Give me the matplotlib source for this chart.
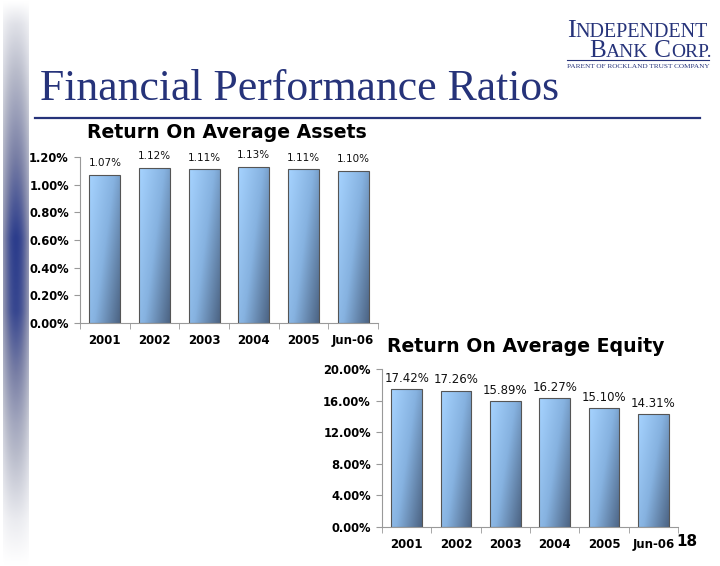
import numpy as np
import matplotlib
matplotlib.use("Agg")
import matplotlib.pyplot as plt
from matplotlib.colors import LinearSegmentedColormap
from matplotlib.ticker import FuncFormatter, FixedLocator

W, H = 720, 566

years = ["2001", "2002", "2003", "2004", "2005", "Jun-06"]
roa = [1.07, 1.12, 1.11, 1.13, 1.11, 1.10]
roe = [17.42, 17.26, 15.89, 16.27, 15.10, 14.31]
roa_ticks = [0.0, 0.2, 0.4, 0.6, 0.8, 1.0, 1.2]
roe_ticks = [0.0, 4.0, 8.0, 12.0, 16.0, 20.0]

NAVY = "#26337a"
bar_cmap = LinearSegmentedColormap.from_list("bar", ["#a6d3ff", "#86b2e0", "#4d6585"])


def box(left, top, right, bottom):
    # pixel box -> figure fraction rect
    return [left / W, 1 - bottom / H, (right - left) / W, (bottom - top) / H]


def gradient_bars(ax, vals, width=0.62):
    bars = ax.bar(range(len(vals)), vals, width=width, color="none",
                  edgecolor="#555555", linewidth=0.8, zorder=3)
    yy, xx = np.mgrid[0:1:60j, 0:1:30j]
    grad = 0.6 * xx + 0.4 * (1 - yy)
    for b in bars:
        x0, y0 = b.get_x(), b.get_y()
        im = ax.imshow(grad, cmap=bar_cmap, origin="lower", aspect="auto",
                       extent=(x0, x0 + b.get_width(), y0, y0 + b.get_height()),
                       zorder=2, interpolation="bilinear")
        im.set_clip_path(b)
    return bars


def style_axes(ax, ticks, fmt):
    ax.set_xlim(-0.5, len(years) - 0.5)
    ax.set_ylim(ticks[0], ticks[-1])
    ax.set_yticks(ticks)
    ax.yaxis.set_major_formatter(FuncFormatter(lambda v, p: fmt.format(v)))
    ax.set_xticks(range(len(years)))
    ax.set_xticklabels(years)
    ax.tick_params(axis="x", length=0, pad=8)
    ax.xaxis.set_minor_locator(FixedLocator(np.arange(-0.5, len(years), 1.0)))
    ax.tick_params(axis="x", which="minor", length=4, color="#999999")
    ax.tick_params(axis="y", length=4, color="#999999", pad=4)
    for lab in ax.get_xticklabels():
        lab.set_fontweight("bold")
        lab.set_fontsize(8.5)
    for lab in ax.get_yticklabels():
        lab.set_fontweight("bold")
        lab.set_fontsize(8.3)
    for s in ("top", "right"):
        ax.spines[s].set_visible(False)
    for s in ("left", "bottom"):
        ax.spines[s].set_color("#999999")
        ax.spines[s].set_linewidth(0.8)
    ax.set_facecolor("none")


fig = plt.figure(figsize=(W / 100, H / 100), dpi=100)
fig.patch.set_facecolor("white")

# decorative strip on the left
sax = fig.add_axes(box(3, 0, 29, H))
sax.axis("off")
ty = np.linspace(0, 1, 200)[:, None]
tx = np.linspace(-1, 1, 30)[None, :]
vert = np.interp(ty, [0, 0.04, 0.2, 0.42, 0.55, 0.75, 0.92, 1.0],
                 [0.0, 0.15, 0.5, 1.0, 0.95, 0.45, 0.1, 0.0])
strip = vert * (1 - 0.45 * tx ** 2)
strip_cmap = LinearSegmentedColormap.from_list("strip", ["#ffffff", "#b9bccb", "#7a80a6", "#2c3d8c"])
sax.imshow(strip, cmap=strip_cmap, aspect="auto", vmin=0, vmax=1, interpolation="bilinear")

# logo
renderer = fig.canvas.get_renderer()


def small_caps(x, y, parts, color=NAVY):
    # parts: list of (text, size); x,y in pixels (baseline)
    for txt, size in parts:
        t = fig.text(x / W, 1 - y / H, txt, fontsize=size, family="Liberation Serif",
                     color=color, va="baseline", ha="left")
        x += t.get_window_extent(renderer).width
    return x


small_caps(567, 37, [("I", 19), ("NDEPENDENT", 14.5)])
small_caps(589, 57, [("B", 18), ("ANK", 14), (" C", 18), ("ORP.", 14)])
fig.add_artist(plt.Line2D([567 / W, 709 / W], [1 - 60 / H] * 2, color=NAVY, lw=0.8))
fig.text(567 / W, 1 - 68 / H, "PARENT OF ROCKLAND TRUST COMPANY", fontsize=5.2,
         family="Liberation Serif", color=NAVY, va="baseline", ha="left")

# page title and rule
fig.text(40 / W, 1 - 100 / H, "Financial Performance Ratios", family="Liberation Serif",
         fontsize=31.5, color=NAVY, va="baseline", ha="left")
fig.add_artist(plt.Line2D([35 / W, 700 / W], [1 - 118 / H] * 2, color=NAVY, lw=1.6))

# ROA chart
ax1 = fig.add_axes(box(80, 157, 378, 323))
gradient_bars(ax1, roa)
style_axes(ax1, roa_ticks, "{:.2f}%")
for i, v in enumerate(roa):
    ax1.annotate(f"{v:.2f}%", (i, v), xytext=(0, 5), textcoords="offset points",
                 ha="center", va="bottom", fontsize=7.5, color="#111111")
fig.text(87 / W, 1 - 133 / H, "Return On Average Assets", fontsize=13.6,
         fontweight="bold", va="center", ha="left")

# ROE chart
ax2 = fig.add_axes(box(382, 369, 678, 527))
gradient_bars(ax2, roe)
style_axes(ax2, roe_ticks, "{:.2f}%")
for i, v in enumerate(roe):
    ax2.annotate(f"{v:.2f}%", (i, v), xytext=(0, 3), textcoords="offset points",
                 ha="center", va="bottom", fontsize=8.5, color="#111111")
fig.text(387 / W, 1 - 346 / H, "Return On Average Equity", fontsize=13.6,
         fontweight="bold", va="center", ha="left")

# page number
fig.text(676 / W, 1 - 541 / H, "18", fontsize=11, fontweight="bold", va="center", ha="left")

fig.savefig("out.png", dpi=100)
